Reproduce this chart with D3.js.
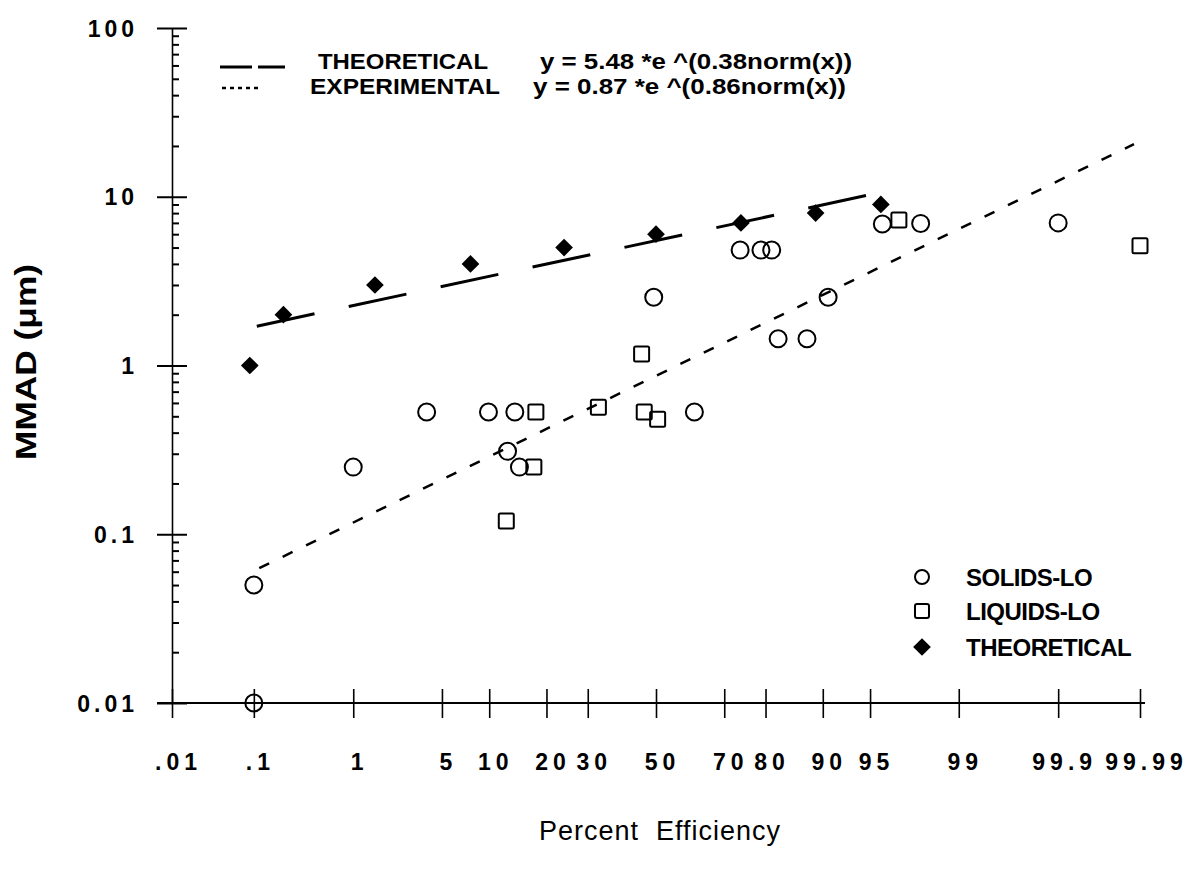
<!DOCTYPE html>
<html><head><meta charset="utf-8">
<script src="https://cdn.jsdelivr.net/npm/d3@7"></script>
<style>
body{margin:0;background:#fff;}
text{font-family:"Liberation Sans",Arial,Helvetica,sans-serif;fill:#000;}
</style>
</head><body>
<svg id="chart" width="1203" height="872"></svg>
<script>
// ---------------- data ----------------
const xTickValues = [0.01, 0.1, 1, 5, 10, 20, 30, 50, 70, 80, 90, 95, 99, 99.9, 99.99];
const xTickLabels = [".01", ".1", "1", "5", "10", "20", "30", "50", "70", "80", "90", "95", "99", "99.9", "99.99"];
const yTickValues = [0.01, 0.1, 1, 10, 100];
const yTickLabels = ["0.01", "0.1", "1", "10", "100"];

const solidsEff  = [0.1, 0.1, 1, 3.9, 9.9, 13.9, 12.7, 14.7, 49.3, 61.6, 74.1, 79, 81.3, 82.6, 87.7, 90.7, 95.9, 97.9, 99.9];
const solidsMMAD = [0.01, 0.05, 0.25, 0.53, 0.53, 0.53, 0.31, 0.25, 2.54, 0.53, 4.83, 4.83, 4.83, 1.44, 1.44, 2.54, 6.9, 6.95, 7.0];

const liquidsEff  = [12.5, 17.4, 17.8, 32.9, 45.6, 46.4, 50.5, 96.9, 99.99];
const liquidsMMAD = [0.12, 0.25, 0.53, 0.565, 1.17, 0.53, 0.48, 7.28, 5.13];

const theoEff  = [0.09, 0.21, 1.54, 7.7, 24, 50, 74.3, 89, 95.8];
const theoMMAD = [1, 2, 3, 4, 5, 6, 7, 8, 9];

// fitted lines (end points)
const theoFitEff  = [0.108, 95.3];
const theoFitMMAD = [1.71, 10.4];
const expFitEff   = [0.115, 99.988];
const expFitMMAD  = [0.063, 20.5];

const legendTopLabels = ["THEORETICAL", "EXPERIMENTAL"];
const legendTopEquations = ["y = 5.48 *e ^(0.38norm(x))", "y = 0.87 *e ^(0.86norm(x))"];
const legendBottomLabels = ["SOLIDS-LO", "LIQUIDS-LO", "THEORETICAL"];

// ---------------- helpers ----------------
function probit(p){
  const a=[-3.969683028665376e+01,2.209460984245205e+02,-2.759285104469687e+02,1.383577518672690e+02,-3.066479806614716e+01,2.506628277459239e+00];
  const b=[-5.447609879822406e+01,1.615858368580409e+02,-1.556989798598866e+02,6.680131188771972e+01,-1.328068155288572e+01];
  const c=[-7.784894002430293e-03,-3.223964580411365e-01,-2.400758277161838e+00,-2.549732539343734e+00,4.374664141464968e+00,2.938163982698783e+00];
  const d=[7.784695709041462e-03,3.224671290700398e-01,2.445134137142996e+00,3.754408661907416e+00];
  const pl=0.02425, ph=1-pl; let q,r;
  if(p<pl){q=Math.sqrt(-2*Math.log(p));return (((((c[0]*q+c[1])*q+c[2])*q+c[3])*q+c[4])*q+c[5])/((((d[0]*q+d[1])*q+d[2])*q+d[3])*q+1);}
  if(p<=ph){q=p-0.5;r=q*q;return (((((a[0]*r+a[1])*r+a[2])*r+a[3])*r+a[4])*r+a[5])*q/(((((b[0]*r+b[1])*r+b[2])*r+b[3])*r+b[4])*r+1);}
  q=Math.sqrt(-2*Math.log(1-p));return -(((((c[0]*q+c[1])*q+c[2])*q+c[3])*q+c[4])*q+c[5])/((((d[0]*q+d[1])*q+d[2])*q+d[3])*q+1);
}
const zOf = pct => probit(pct/100);

// ---------------- scales ----------------
const svg = d3.select("#chart");
const xZ = d3.scaleLinear().domain([zOf(0.01), zOf(99.99)]).range([172, 1140]);
const x = pct => xZ(zOf(pct));
const y = d3.scaleLog().domain([0.01, 100]).range([703, 28]);

// ---------------- axes ----------------
svg.append("line").attr("x1",157).attr("x2",1145).attr("y1",y(0.01)).attr("y2",y(0.01))
  .attr("stroke","#000").attr("stroke-width",2);
const xAxis = d3.axisBottom(xZ)
  .tickValues(xTickValues.map(zOf))
  .tickFormat((d,i)=>xTickLabels[i])
  .tickSize(15).tickSizeOuter(0).tickPadding(0);
const gx = svg.append("g").attr("transform",`translate(0,${y(0.01)})`).call(xAxis);
gx.select(".domain").remove();
gx.selectAll(".tick line").attr("y1",-14).attr("y2",15).attr("stroke","#000").attr("stroke-width",1.6);
gx.selectAll(".tick text").attr("y",67).attr("dx",6).attr("dy",0)
  .style("font-size","23px").style("letter-spacing","5px").style("font-weight","bold");

const yAxis = d3.axisLeft(y).tickValues(yTickValues)
  .tickFormat((d,i)=>yTickLabels[i]).tickSize(15).tickSizeOuter(0).tickPadding(0);
const gy = svg.append("g").attr("transform","translate(172,0)").call(yAxis);
gy.select(".domain").attr("stroke","#000").attr("stroke-width",1.6);
gy.selectAll(".tick line").attr("x1",-15).attr("x2",15).attr("stroke","#000").attr("stroke-width",2);
gy.selectAll(".tick text").attr("x",-34).attr("dy","0.35em")
  .style("font-size","23px").style("letter-spacing","4px").style("font-weight","bold");

const minor = [];
[0.01,0.1,1,10].forEach(dec=>{for(let k=2;k<=9;k++) minor.push(dec*k);});
const yMinor = d3.axisRight(y).tickValues(minor).tickSize(7).tickFormat("");
const gm = svg.append("g").attr("transform","translate(172,0)").call(yMinor);
gm.select(".domain").remove();
gm.selectAll(".tick line").attr("stroke","#000").attr("stroke-width",2);

// ---------------- fit lines ----------------
const line = d3.line().x(d=>x(d[0])).y(d=>y(d[1]));
svg.append("path").datum(theoFitEff.map((e,i)=>[e,theoFitMMAD[i]]))
  .attr("d",line).attr("fill","none").attr("stroke","#000")
  .attr("stroke-width",3).attr("stroke-dasharray","59,35");
svg.append("path").datum(expFitEff.map((e,i)=>[e,expFitMMAD[i]]))
  .attr("d",line).attr("fill","none").attr("stroke","#000")
  .attr("stroke-width",2.5).attr("stroke-dasharray","11,15");

// ---------------- markers ----------------
svg.append("g").selectAll("circle").data(solidsEff.map((e,i)=>[e,solidsMMAD[i]]))
  .join("circle").attr("cx",d=>x(d[0])).attr("cy",d=>y(d[1])).attr("r",8.5)
  .attr("fill","none").attr("stroke","#000").attr("stroke-width",2);
svg.append("g").selectAll("rect").data(liquidsEff.map((e,i)=>[e,liquidsMMAD[i]]))
  .join("rect").attr("x",d=>x(d[0])-7.5).attr("y",d=>y(d[1])-7.5)
  .attr("width",15).attr("height",15).attr("rx",1.5)
  .attr("fill","none").attr("stroke","#000").attr("stroke-width",2);
const diamond = d3.symbol().type(d3.symbolDiamond2).size(200);
svg.append("g").selectAll("path").data(theoEff.map((e,i)=>[e,theoMMAD[i]]))
  .join("path").attr("d",diamond).attr("transform",d=>`translate(${x(d[0])},${y(d[1])})`)
  .attr("fill","#000");

// ---------------- top legend ----------------
const lt = svg.append("g");
lt.append("line").attr("x1",220).attr("x2",285).attr("y1",67).attr("y2",67)
  .attr("stroke","#000").attr("stroke-width",3).attr("stroke-dasharray","32,6");
lt.append("line").attr("x1",222).attr("x2",262).attr("y1",88).attr("y2",88)
  .attr("stroke","#000").attr("stroke-width",2.5).attr("stroke-dasharray","4,4");
lt.selectAll("text.lab").data(legendTopLabels).join("text").attr("class","lab")
  .attr("x",(d,i)=>i===0?318:310).attr("y",(d,i)=>69+i*25)
  .attr("textLength",(d,i)=>i===0?170:190).attr("lengthAdjust","spacingAndGlyphs")
  .style("font-size","22px").style("font-weight","bold").text(d=>d);
lt.selectAll("text.eq").data(legendTopEquations).join("text").attr("class","eq")
  .attr("x",(d,i)=>i===0?540:533).attr("y",(d,i)=>69+i*25)
  .attr("textLength",(d,i)=>i===0?312:313).attr("lengthAdjust","spacingAndGlyphs")
  .style("font-size","22px").style("font-weight","bold").text(d=>d);

// ---------------- bottom legend ----------------
const lb = svg.append("g");
const rowY = [577, 611, 647];
lb.append("circle").attr("cx",922).attr("cy",rowY[0]).attr("r",7).attr("fill","none").attr("stroke","#000").attr("stroke-width",2);
lb.append("rect").attr("x",915).attr("y",rowY[1]-7).attr("width",14).attr("height",14).attr("rx",2).attr("fill","none").attr("stroke","#000").attr("stroke-width",2);
lb.append("path").attr("d",diamond).attr("transform",`translate(922,${rowY[2]})`).attr("fill","#000");
lb.selectAll("text").data(legendBottomLabels).join("text")
  .attr("x",966).attr("y",(d,i)=>rowY[i]+9)
  .style("font-size","24px").style("font-weight","bold").style("letter-spacing","-0.5px").text(d=>d);

// ---------------- axis titles ----------------
svg.append("text").attr("transform","translate(36,362) rotate(-90)")
  .attr("text-anchor","middle").attr("textLength",196).attr("lengthAdjust","spacingAndGlyphs")
  .style("font-size","29px").style("font-weight","bold").text("MMAD (μm)");
svg.append("text").attr("x",660).attr("y",840).attr("text-anchor","middle")
  .style("font-size","27px").style("letter-spacing","1px").attr("xml:space","preserve")
  .text("Percent  Efficiency");
</script>
</body></html>
